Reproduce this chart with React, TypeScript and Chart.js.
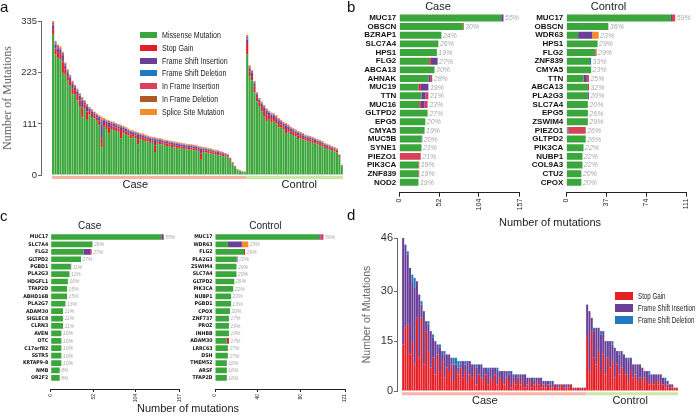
import React, { useEffect, useRef } from "react";
import { Chart, registerables } from "chart.js";
Chart.register(...registerables);

const SANS = '"Liberation Sans", Arial, Helvetica, sans-serif';
const NARROW = '"Liberation Sans Narrow", "Arial Narrow", "DejaVu Sans Condensed", sans-serif';
const SERIF = '"Liberation Serif", "Times New Roman", serif';
Chart.defaults.font.family = SANS;
Chart.defaults.color = "#222";

// ---------- shared legend / series ----------
const seriesNames = ["Missense Mutation", "Stop Gain", "Frame Shift Insertion", "Frame Shift Deletion", "In Frame Insertion", "In Frame Deletion", "Splice Site Mutation"];
const seriesColors = ["#3ba63b", "#e41f26", "#6a3f98", "#1f7bbf", "#d9405a", "#b0582a", "#f58b2a"];
const groupNames = ["Case", "Control"];
const bandColors = ["#f6b4a6", "#d0e4a8"];

// ---------- panel a : per-sample mutation counts ----------
const caseMissense = [305,262,255,252,222,220,205,194,175,176,162,150,125,145,120,132,126,123,118,108,60,105,100,90,100,98,96,94,80,91,89,86,80,83,80,66,78,76,74,73,70,70,50,68,67,66,64,63,62,61,60,59,58,57,57,56,55,55,54,53,52,33,50,49,48,47,45,44,44,42,41,40,38,31,23,16,10,8,7,6];
const caseStop = [12,13,12,11,25,10,10,10,14,8,12,12,22,8,18,7,7,6,7,10,20,8,9,14,7,8,7,7,16,7,6,6,8,6,6,12,5,6,6,5,6,5,14,5,5,5,5,5,5,5,5,5,5,5,4,4,4,5,4,4,4,14,4,4,4,4,4,4,4,4,3,3,3,3,2,2,1,1,1,1];
const caseFsIns = [8,9,8,9,12,8,8,7,10,6,8,10,15,5,11,5,5,5,5,8,30,6,7,10,5,5,5,5,8,5,5,5,6,4,5,10,4,4,4,4,4,4,12,4,4,4,4,4,4,4,4,4,4,4,4,4,4,3,4,4,3,10,3,3,3,3,3,3,3,3,3,2,2,2,2,1,1,1,0,0];
const caseFsDel = [2,2,2,1,2,1,2,1,1,1,1,1,2,1,1,1,1,1,0,1,6,1,1,1,1,1,1,1,1,1,1,0,1,1,1,1,1,1,0,1,1,1,2,1,1,1,1,0,1,1,1,1,1,1,1,1,1,1,1,1,1,1,1,1,1,1,1,1,0,1,1,1,1,0,0,0,0,0,0,0];
const caseIfIns = [4,3,4,3,4,3,3,3,3,3,2,3,3,2,3,2,2,2,2,2,5,2,2,2,2,2,2,2,2,1,1,2,1,1,1,2,1,1,2,1,1,1,2,1,1,1,1,2,1,1,1,1,1,1,1,1,1,1,1,1,1,2,1,1,1,1,1,1,1,1,1,1,1,1,0,0,0,0,0,0];
const caseIfDel = [1,1,1,1,1,1,0,1,0,0,1,0,1,0,0,0,1,0,0,0,2,0,0,0,0,0,0,0,0,0,0,0,0,0,0,0,0,0,0,0,0,0,0,0,0,0,0,0,0,0,0,0,0,0,0,0,0,0,0,0,0,0,0,0,0,0,0,0,0,0,0,0,0,0,0,0,0,0,0,0];
const caseSplice = [3,2,2,3,2,2,2,2,2,2,2,2,2,2,2,1,1,1,2,1,4,2,2,2,2,2,2,2,2,2,2,2,2,2,2,2,2,2,2,2,2,2,2,2,2,2,2,2,2,2,2,2,2,2,2,2,2,2,2,2,2,2,2,2,2,2,2,2,2,1,1,1,1,1,1,1,1,0,0,0];

const ctrlMissense = [262,215,206,180,160,150,138,128,116,122,114,117,112,104,103,99,90,94,89,87,84,78,80,77,75,73,72,70,69,66,64,62,59,57,55,53,51,49,38,18];
const ctrlStop = [25,10,9,12,9,8,10,11,15,7,10,7,8,9,7,7,10,6,6,6,6,8,5,5,5,5,5,5,5,5,5,5,4,4,4,4,4,4,3,2];
const ctrlFsIns = [8,7,7,7,6,5,7,8,9,6,7,5,5,6,5,5,8,5,5,4,4,6,4,4,4,4,4,4,3,3,3,3,3,3,3,3,3,2,2,1];
const ctrlFsDel = [2,1,1,1,1,1,1,1,1,1,1,1,1,1,1,1,1,1,1,1,1,1,1,1,1,1,1,1,1,1,1,1,1,1,1,0,0,0,0,0];
const ctrlIfIns = [4,3,3,3,2,2,2,2,2,2,2,2,2,2,2,2,2,2,2,2,2,1,2,2,1,1,1,1,1,1,1,1,1,1,1,1,1,1,1,0];
const ctrlIfDel = [1,1,0,0,0,0,0,0,0,0,0,0,0,0,0,0,0,0,0,0,0,0,0,0,0,0,0,0,0,0,0,0,0,0,0,0,0,0,0,0];
const ctrlSplice = [3,2,2,2,2,2,2,2,2,2,2,2,2,2,2,2,2,2,2,2,2,2,2,2,2,2,2,2,2,2,2,2,2,2,2,2,2,2,1,1];
const aTicks = [0, 111, 223, 335];

// ---------- panel d : truncating mutations per sample ----------
const dCaseStop = [14,19,20,11,15,8,22,10,22,8,18,12,7,10,5,11,6,9,4,7,6,8,3,6,5,7,4,6,3,5,4,6,2,5,4,3,5,2,4,3,5,2,4,3,2,4,3,1,3,2,4,2,3,1,2,3,1,2,3,2,1,2,1,2,1,1,2,1,1,2,1,1,1,2,1,0,1,1,0,1];
const dCaseFsIns = [32,25,21,26,18,23,11,19,4,16,3,8,11,6,10,3,7,3,7,4,5,2,5,2,2,1,5,2,6,4,4,2,5,3,4,4,2,4,3,4,2,4,2,3,4,2,2,5,2,3,0,3,2,4,2,1,3,1,1,2,3,1,2,1,1,2,0,1,1,0,1,1,1,0,0,1,0,0,1,0];
const dCaseFsDel = [0,0,1,0,2,3,0,0,1,0,0,1,0,1,0,0,1,0,1,0,0,0,2,2,2,1,0,1,0,0,0,0,1,0,0,0,0,1,0,0,0,1,0,0,0,0,1,0,0,0,1,0,0,0,0,0,0,1,0,0,0,0,0,0,1,0,0,0,0,0,0,0,0,0,0,0,0,0,0,0];
const dCtrlStop = [16,6,18,10,8,12,6,11,5,10,7,9,4,8,5,7,6,5,3,6,4,5,3,4,3,4,3,2,3,2,3,2,3,2,1,2,1,1,1,1];
const dCtrlFsIns = [10,18,4,8,11,7,11,7,10,5,8,5,9,4,6,5,5,5,6,4,4,3,5,4,4,2,3,3,2,3,2,3,2,2,2,1,1,1,0,0];
const dCtrlFsDel = [0,0,0,1,0,0,1,0,0,0,0,1,0,0,1,0,0,0,1,0,0,0,0,0,0,0,0,1,0,0,0,0,0,0,1,0,0,0,0,0];
const dTicks = [0, 15, 30, 46];

// ---------- panels b / c : top genes ----------
const zero20 = [0,0,0,0,0,0,0,0,0,0,0,0,0,0,0,0,0,0,0,0];

const bCaseGenes = ["MUC17","OBSCN","BZRAP1","SLC7A4","HPS1","FLG2","ABCA13","AHNAK","MUC19","TTN","MUC16","GLTPD2","EPG5","CMYA5","MUC5B","SYNE1","PIEZO1","PIK3CA","ZNF839","NOD2"];
const bCaseMissense = [133,83,55,51,49,39,46,38,25,29,26,37,34,33,29,29,0,25,25,25];
const bCaseStop = [0,1,0,0,0,2,0,0,3,0,2,0,0,0,0,0,0,1,1,0];
const bCaseFsIns = [3,0,0,0,0,9,0,3,10,5,5,0,0,0,1,0,0,0,0,0];
const bCaseIfIns = [0,0,0,0,0,0,0,2,0,4,4,0,0,0,0,0,28,0,0,0];
const bCasePct = ["55%","30%","24%","26%","19%","27%","30%","28%","19%","21%","23%","27%","20%","19%","20%","21%","21%","19%","19%","19%"];
const bCaseTicks = [0, 52, 104, 157];

const bCtrlGenes = ["MUC17","OBSCN","WDR63","HPS1","FLG2","ZNF839","CMYA5","TTN","ABCA13","PLA2G3","SLC7A4","EPG5","ZSWIM4","PIEZO1","GLTPD2","PIK3CA","NUBP1","COL9A3","CTU2","CPOX"];
const bCtrlMissense = [97,39,11,29,27,22,23,16,20,20,20,20,20,1,18,16,15,15,14,14];
const bCtrlStop = [0,0,0,0,1,0,0,0,1,0,0,0,0,0,0,0,0,0,0,0];
const bCtrlFsIns = [1,0,13,0,0,0,0,3,0,1,0,0,0,1,0,0,0,0,0,0];
const bCtrlFsDel = [0,0,0,0,0,1,0,0,0,0,0,0,0,0,0,0,0,0,0,0];
const bCtrlIfIns = [3,0,0,0,0,0,0,2,0,0,0,0,0,16,0,0,0,0,0,0];
const bCtrlSplice = [0,0,6,0,0,0,0,0,0,0,0,0,0,0,0,0,0,0,0,0];
const bCtrlPct = ["59%","36%","23%","29%","29%","33%","23%","25%","32%","20%","20%","26%","29%","26%","26%","22%","22%","22%","20%","20%"];
const bCtrlTicks = [0, 37, 74, 111];

const cCaseGenes = ["MUC17","SLC7A4","FLG2","GLTPD2","PGBD1","PLA2G3","HDGFL1","TFAP2D","ABHD16B","PLA2G7","ADAM30","SIGLEC8","CLRN3","AVEN","OTC","C17orf82","SSTR5","KRTAP9-8","NMB","OR2F2"];
const cCaseMissense = [135,51,40,37,24,23,21,20,20,18,15,15,15,13,13,13,13,13,11,11];
const cCaseFsIns = [3,0,8,0,1,0,0,0,0,0,0,0,0,0,0,0,0,0,0,0];
const cCaseIfIns = [0,0,2,0,0,0,0,0,0,0,0,0,0,0,0,0,0,0,0,0];
const cCasePct = ["55%","26%","27%","27%","11%","11%","16%","15%","15%","13%","11%","11%","11%","10%","10%","10%","10%","10%","8%","8%"];
const cCaseTicks = [0, 52, 104, 157];

const cCtrlGenes = ["MUC17","WDR63","FLG2","PLA2G3","ZSWIM4","SLC7A4","GLTPD2","PIK3CA","NUBP1","PGBD1","CPOX","ZNF737","PROZ","INHBB","ADAM30","LRRC63","DSH","TMEM52","ARSF","TFAP2D"];
const cCtrlMissense = [97,12,27,20,20,20,18,17,15,15,14,13,13,13,11,12,12,11,11,11];
const cCtrlStop = [0,0,1,0,0,0,0,0,0,0,0,0,0,0,2,0,0,0,0,0];
const cCtrlFsIns = [1,13,0,1,0,0,0,0,0,0,0,0,0,0,0,0,0,0,0,0];
const cCtrlIfIns = [3,0,0,0,0,0,0,0,0,0,0,0,0,0,0,0,0,0,0,0];
const cCtrlSplice = [0,6,0,0,0,0,0,0,0,0,0,0,0,0,0,0,0,0,0,0];
const cCtrlPct = ["59%","23%","29%","20%","29%","20%","26%","22%","22%","13%","20%","17%","19%","19%","17%","17%","17%","16%","16%","16%"];
const cCtrlTicks = [0, 40, 80, 121];

// ---------- chart builders ----------
function pctLabels(labels: string[], size: number) {
  return {
    id: "pctLabels",
    afterDatasetsDraw(chart: any) {
      const ctx = chart.ctx;
      const meta = chart.getDatasetMeta(chart.data.datasets.length - 1);
      ctx.save();
      ctx.font = `italic ${size}px ${SANS}`;
      ctx.fillStyle = "#a9a9a9";
      ctx.textAlign = "left";
      ctx.textBaseline = "middle";
      meta.data.forEach((el: any, i: number) => {
        ctx.fillText(labels[i], el.x + 1.5, el.y + 0.5);
      });
      ctx.restore();
    },
  };
}

function hbarConfig(c: any): any {
  return {
    type: "bar",
    data: {
      datasets: c.series.map((vals: number[], k: number) => ({
        label: seriesNames[k],
        data: vals.map((v, i) => ({ x: v, y: i })),
        backgroundColor: seriesColors[k],
        borderWidth: 0,
        barPercentage: c.barPct,
        categoryPercentage: 1,
      })),
    },
    options: {
      indexAxis: "y",
      animation: false,
      responsive: true,
      maintainAspectRatio: false,
      events: [],
      layout: { padding: { left: 0, right: c.padRight, top: 0, bottom: 0 } },
      plugins: {
        legend: { display: false },
        tooltip: { enabled: false },
        title: { display: true, text: c.title, font: { size: c.titleSize, weight: "normal" }, color: "#222", padding: c.titlePad },
      },
      scales: {
        x: {
          type: "linear", stacked: true, min: 0, max: c.max, offset: false,
          afterBuildTicks: (s: any) => { s.ticks = c.ticks.map((v: number) => ({ value: v })); },
          afterFit: (s: any) => { s.height = c.xHeight; },
          ticks: { autoSkip: false, minRotation: 90, maxRotation: 90, font: { size: c.tickSize }, color: "#222", padding: c.tickPad, callback: (v: any) => String(v) },
          grid: { display: true, offset: false, drawOnChartArea: false, drawTicks: true, tickLength: c.tickLen, color: "#222" },
          border: { display: true, color: "#222", width: 1 },
        },
        y: {
          type: "linear", stacked: true, reverse: true, min: -0.5, max: c.yMax, offset: false,
          afterBuildTicks: (s: any) => { s.ticks = c.genes.map((_: string, i: number) => ({ value: i })); },
          afterFit: (s: any) => { s.width = c.yWidth; },
          ticks: { autoSkip: false, callback: (v: any) => c.genes[v], font: c.geneFont, color: "#111", padding: c.labelPad },
          grid: { display: false, offset: false, drawTicks: false },
          border: { display: false },
        },
      },
    },
    plugins: [pctLabels(c.pct, c.pctSize)],
  };
}

function stackedConfig(o: any): any {
  const datasets: any[] = o.series.map((vals: number[], k: number) => ({
    type: "bar",
    label: o.labels[k],
    data: vals.map((v, i) => ({ x: i, y: v })),
    backgroundColor: o.colors[k],
    borderWidth: 0,
    barPercentage: o.barPct,
    categoryPercentage: 1,
    stack: "m",
  }));
  let start = -0.5;
  const tickVals: number[] = [];
  o.groupSizes.forEach((n: number, g: number) => {
    datasets.push({
      type: "line", label: groupNames[g],
      data: [{ x: start, y: o.bandY }, { x: start + n, y: o.bandY }],
      borderColor: bandColors[g], borderWidth: o.bandW, pointRadius: 0, clip: false, fill: false, stack: "band" + g,
    });
    tickVals.push(start + n * o.labelFracs[g]);
    start += n;
  });
  return {
    type: "bar",
    data: { datasets },
    options: {
      animation: false, responsive: true, maintainAspectRatio: false, events: [],
      layout: { padding: { left: 0, right: o.padRight, top: o.padTop, bottom: 0 } },
      plugins: { legend: { display: false }, tooltip: { enabled: false } },
      scales: {
        x: {
          type: "linear", stacked: true, min: o.xMin, max: o.xMax, offset: false,
          afterBuildTicks: (s: any) => { s.ticks = tickVals.map((v) => ({ value: v })); },
          afterFit: (s: any) => { s.height = o.xHeight; },
          ticks: { autoSkip: false, minRotation: 0, maxRotation: 0, padding: o.groupLabelPad, font: { size: 11 }, color: "#222", callback: (_v: any, i: number) => groupNames[i] },
          grid: { display: false, offset: false, drawTicks: false },
          border: { display: false },
        },
        y: {
          type: "linear", stacked: true, min: 0, max: o.yMax, offset: false,
          afterBuildTicks: (s: any) => { s.ticks = o.yTicks.map((v: number) => ({ value: v })); },
          afterFit: (s: any) => { s.width = o.yWidth; },
          ticks: { font: { size: o.yTickSize }, color: "#333", padding: 1, callback: (v: any) => String(v) },
          grid: { display: true, drawOnChartArea: false, drawTicks: true, tickLength: 3, color: "#666" },
          border: { display: true, color: "#666" },
          title: { display: true, text: "Number of Mutations", font: o.yTitleFont, color: "#666", padding: { top: o.yTitlePad, bottom: 0 } },
        },
      },
    },
  };
}

const box = (l: number, t: number, w: number, h: number): React.CSSProperties => ({ position: "absolute", left: l, top: t, width: w, height: h });

function Legend({ left, top, idx, rowH, boxW, boxH, size, squeeze }: any) {
  return (
    <div style={{ position: "absolute", left, top, fontFamily: SANS, fontSize: size, color: "#222" }}>
      {idx.map((k: number) => (
        <div key={k} style={{ display: "flex", alignItems: "center", height: rowH, whiteSpace: "nowrap" }}>
          <span style={{ display: "inline-block", width: boxW, height: boxH, background: seriesColors[k], marginRight: 5, flex: "none" }} />
          <span style={{ display: "inline-block", transform: `scaleX(${squeeze})`, transformOrigin: "left center" }}>{seriesNames[k]}</span>
        </div>
      ))}
    </div>
  );
}

export default function App() {
  const aRef = useRef<HTMLCanvasElement>(null);
  const bcRef = useRef<HTMLCanvasElement>(null);
  const bkRef = useRef<HTMLCanvasElement>(null);
  const ccRef = useRef<HTMLCanvasElement>(null);
  const ckRef = useRef<HTMLCanvasElement>(null);
  const dRef = useRef<HTMLCanvasElement>(null);

  useEffect(() => {
    const charts: Chart[] = [];
    charts.push(new Chart(aRef.current as any, stackedConfig({
      series: [
        [...caseMissense, ...ctrlMissense], [...caseStop, ...ctrlStop], [...caseFsIns, ...ctrlFsIns], [...caseFsDel, ...ctrlFsDel],
        [...caseIfIns, ...ctrlIfIns], [...caseIfDel, ...ctrlIfDel], [...caseSplice, ...ctrlSplice],
      ],
      colors: seriesColors, labels: seriesNames,
      groupSizes: [caseMissense.length, ctrlMissense.length], labelFracs: [0.43, 0.55],
      xMin: -5, xMax: 119.5, yMax: 335, yTicks: aTicks, yWidth: 41, xHeight: 25, padTop: 21, padRight: 7,
      bandY: -5.4, bandW: 3, barPct: 0.88, groupLabelPad: 3, yTickSize: 9.5,
      yTitleFont: { family: SERIF, size: 12 }, yTitlePad: 0.8,
    })));
    charts.push(new Chart(dRef.current as any, stackedConfig({
      series: [[...dCaseStop, ...dCtrlStop], [...dCaseFsIns, ...dCtrlFsIns], [...dCaseFsDel, ...dCtrlFsDel]],
      colors: [seriesColors[1], seriesColors[2], seriesColors[3]], labels: [seriesNames[1], seriesNames[2], seriesNames[3]],
      groupSizes: [dCaseStop.length, dCtrlStop.length], labelFracs: [0.45, 0.48],
      xMin: -2.67, xMax: 120.37, yMax: 46, yTicks: dTicks, yWidth: 47, xHeight: 28, padTop: 33, padRight: 19,
      bandY: -0.8, bandW: 3, barPct: 0.88, groupLabelPad: 3, yTickSize: 11,
      yTitleFont: { family: SANS, size: 10.5 }, yTitlePad: 10.7,
    })));
    const bCommon = { titleSize: 11, titlePad: { top: 0.4, bottom: 0 }, xHeight: 22.3, yMax: 20.2, geneFont: { size: 8, weight: "bold", family: SANS }, pctSize: 7, tickSize: 7, barPct: 0.8, tickLen: 4, tickPad: 2, labelPad: 3 };
    charts.push(new Chart(bcRef.current as any, hbarConfig({ ...bCommon, genes: bCaseGenes, series: [bCaseMissense, bCaseStop, bCaseFsIns, zero20, bCaseIfIns, zero20, zero20], pct: bCasePct, max: 157, ticks: bCaseTicks, title: "Case", yWidth: 44.3, padRight: 9 })));
    charts.push(new Chart(bkRef.current as any, hbarConfig({ ...bCommon, genes: bCtrlGenes, series: [bCtrlMissense, bCtrlStop, bCtrlFsIns, bCtrlFsDel, bCtrlIfIns, zero20, bCtrlSplice], pct: bCtrlPct, max: 111, ticks: bCtrlTicks, title: "Control", yWidth: 35.3, padRight: 23 })));
    const cCommon = { titleSize: 10, titlePad: { top: 8.7, bottom: 0.6 }, xHeight: 16, yMax: 20.5, geneFont: { size: 5.2, weight: "bold", family: NARROW }, pctSize: 5, tickSize: 5, barPct: 0.77, tickLen: 3, tickPad: 2, labelPad: 2.5 };
    charts.push(new Chart(ccRef.current as any, hbarConfig({ ...cCommon, genes: cCaseGenes, series: [cCaseMissense, zero20, cCaseFsIns, zero20, cCaseIfIns, zero20, zero20], pct: cCasePct, max: 157, ticks: cCaseTicks, title: "Case", yWidth: 50.7, padRight: 20.7 })));
    charts.push(new Chart(ckRef.current as any, hbarConfig({ ...cCommon, genes: cCtrlGenes, series: [cCtrlMissense, cCtrlStop, cCtrlFsIns, zero20, cCtrlIfIns, zero20, cCtrlSplice], pct: cCtrlPct, max: 121, ticks: cCtrlTicks, title: "Control", yWidth: 30, padRight: 7.3 })));
    return () => charts.forEach((ch) => ch.destroy());
  }, []);

  const letter = (t: string, l: number, top: number) => (
    <div style={{ position: "absolute", left: l, top, fontFamily: SANS, fontSize: 15, lineHeight: "15px", color: "#111" }}>{t}</div>
  );
  const axisTitle = (l: number, top: number) => (
    <div style={{ position: "absolute", left: l, top, width: 200, textAlign: "center", fontFamily: SANS, fontSize: 11, lineHeight: "12px", color: "#222" }}>Number of mutations</div>
  );

  return (
    <div style={{ position: "absolute", left: 0, top: 0, width: 699, height: 419, overflow: "hidden", background: "#fff" }}>
      <div style={box(0, 0, 350, 200)}><canvas ref={aRef} /></div>
      <div style={box(355, 0, 175, 215)}><canvas ref={bcRef} /></div>
      <div style={box(531, 0, 178, 215)}><canvas ref={bkRef} /></div>
      <div style={box(0, 212, 200, 193)}><canvas ref={ccRef} /></div>
      <div style={box(185, 212, 168, 193)}><canvas ref={ckRef} /></div>
      <div style={box(350, 205, 349, 214)}><canvas ref={dRef} /></div>
      <Legend left={140} top={28.6} idx={[0, 1, 2, 3, 4, 5, 6]} rowH={12.8} boxW={17} boxH={6} size={9.3} squeeze={0.76} />
      <Legend left={615} top={290} idx={[1, 2, 3]} rowH={12} boxW={18} boxH={8} size={8.6} squeeze={0.72} />
      {letter("a", 0, -1)}
      {letter("b", 347, -1)}
      {letter("c", 0, 208)}
      {letter("d", 347, 207)}
      {axisTitle(450, 216)}
      {axisTitle(88, 402)}
    </div>
  );
}
